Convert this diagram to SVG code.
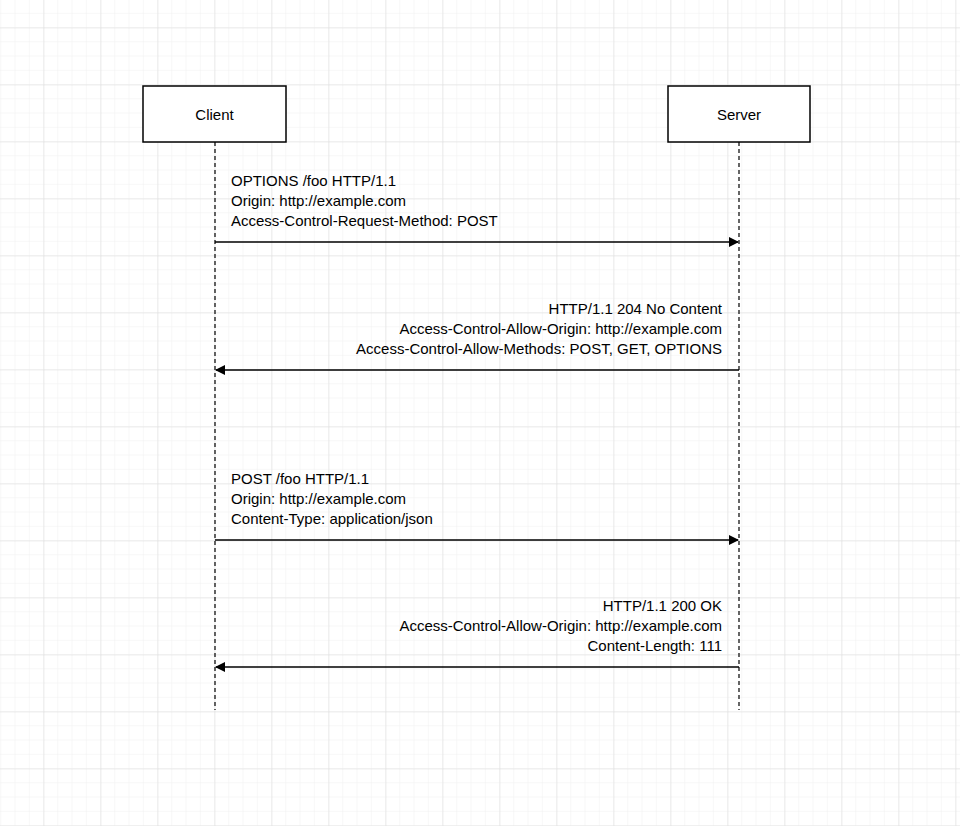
<svg xmlns="http://www.w3.org/2000/svg" width="960" height="826" viewBox="0 0 960 826">
<defs>
<pattern id="minor" width="14.25" height="14.25" patternUnits="userSpaceOnUse" x="1.25" y="-0.5"><path d="M14.25 0V14.25H0" fill="none" stroke="#f0f0f0" stroke-width="1"/></pattern>
<pattern id="major" width="57" height="57" patternUnits="userSpaceOnUse" x="-12.5" y="-28.5"><path d="M57 0V57H0" fill="none" stroke="#dcdcdc" stroke-width="1"/></pattern>
<marker id="ah" markerWidth="10" markerHeight="10" refX="9" refY="5" orient="auto" markerUnits="userSpaceOnUse"><path d="M0,0 L10,5 L0,10 Z" fill="#000"/></marker>
</defs>
<style>
text{font-family:"Liberation Sans",Arial,sans-serif;font-size:15px;fill:#000}
.box{fill:#fff;stroke:#000;stroke-width:1.5}
.life{stroke:#000;stroke-width:1.2;stroke-dasharray:4,3}
.msg{stroke:#000;stroke-width:1.3;marker-end:url(#ah)}
.r{text-anchor:end}
</style>
<rect width="960" height="826" fill="#fff"/>
<rect width="960" height="826" fill="url(#minor)"/>
<rect width="960" height="826" fill="url(#major)"/>
<g id="lifelines">
<line class="life" x1="215" y1="142" x2="215" y2="710"/>
<line class="life" x1="739" y1="142" x2="739" y2="710"/>
</g>
<g id="client"><rect class="box" x="143" y="86" width="143" height="56"/><text x="214.5" y="120" text-anchor="middle">Client</text></g>
<g id="server"><rect class="box" x="668" y="86" width="142" height="56"/><text x="739" y="120" text-anchor="middle">Server</text></g>
<g id="connectors">
<line class="msg" x1="215" y1="242" x2="738" y2="242"/>
<line class="msg" x1="739" y1="370" x2="216" y2="370"/>
<line class="msg" x1="215" y1="540" x2="738" y2="540"/>
<line class="msg" x1="739" y1="667" x2="216" y2="667"/>
</g>
<g id="labels">
<text x="231" y="186">OPTIONS /foo HTTP/1.1</text>
<text x="231" y="206">Origin: http://example.com</text>
<text x="231" y="226">Access-Control-Request-Method: POST</text>
<text class="r" x="722" y="314">HTTP/1.1 204 No Content</text>
<text class="r" x="722" y="334">Access-Control-Allow-Origin: http://example.com</text>
<text class="r" x="722" y="354">Access-Control-Allow-Methods: POST, GET, OPTIONS</text>
<text x="231" y="484">POST /foo HTTP/1.1</text>
<text x="231" y="504">Origin: http://example.com</text>
<text x="231" y="524">Content-Type: application/json</text>
<text class="r" x="722" y="611">HTTP/1.1 200 OK</text>
<text class="r" x="722" y="631">Access-Control-Allow-Origin: http://example.com</text>
<text class="r" x="722" y="651">Content-Length: 111</text>
</g>
</svg>
